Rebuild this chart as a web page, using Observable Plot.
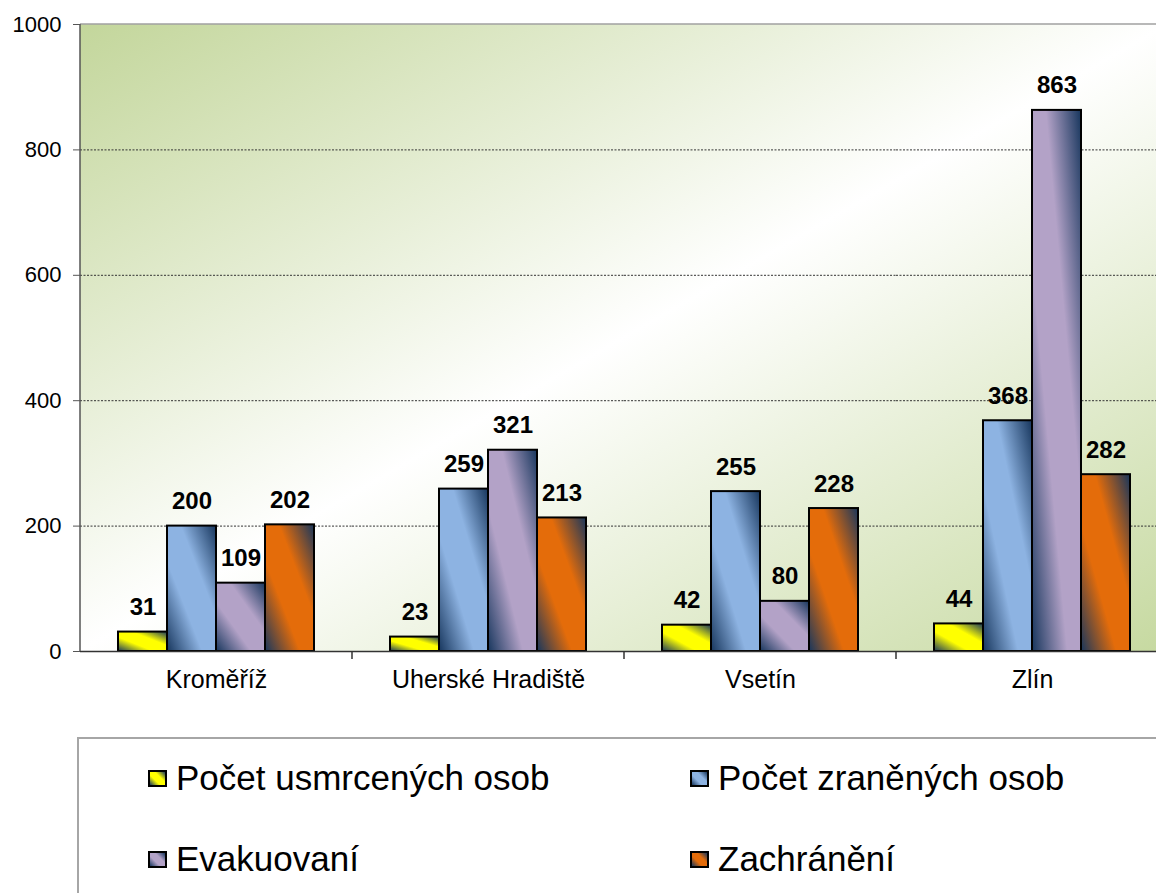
<!DOCTYPE html>
<html><head><meta charset="utf-8">
<script src="https://cdn.jsdelivr.net/npm/d3@7"></script>
<script src="https://cdn.jsdelivr.net/npm/@observablehq/plot@0.6"></script>
<style>
html,body{margin:0;padding:0;background:#fff;overflow:hidden;width:1156px;height:893px;}
#chart svg{display:block;}
#legend{position:relative;margin-left:77px;margin-top:37px;width:1120px;height:200px;border:2px solid #a6a6a6;box-sizing:border-box;font-family:Arial,"Liberation Sans",sans-serif;font-size:35px;color:#000;}
.item{position:absolute;display:flex;align-items:center;height:40px;line-height:40px;white-space:nowrap;}
.sw{width:15px;height:13px;border:2px solid #000;margin-right:9px;}
</style></head><body>
<svg width="0" height="0" style="position:absolute"><defs id="defs"></defs></svg>
<div id="chart"></div>
<div id="legend"></div>
<script>
const categories = ["Kroměříž", "Uherské Hradiště", "Vsetín", "Zlín"];
const series = ["Počet usmrcených osob", "Počet zraněných osob", "Evakuovaní", "Zachránění"];
const usmrceni = [31, 23, 42, 44];
const zraneni = [200, 259, 255, 368];
const evakuovani = [109, 321, 80, 863];
const zachraneni = [202, 213, 228, 282];
const yTicks = [0, 200, 400, 600, 800, 1000];
const colors = ["#ffff00", "#8db3e2", "#b3a2c7", "#e46c0a"];
const dark = "#17365d";
const font = "Arial, 'Liberation Sans', sans-serif";

const seriesValues = [usmrceni, zraneni, evakuovani, zachraneni];
const data = [];
categories.forEach((c, i) => series.forEach((s, j) => data.push({category: c, series: s, value: seriesValues[j][i]})));

// gradients
const defs = d3.select("#defs");
colors.forEach((col, i) => {
  const g = defs.append("linearGradient").attr("id", "bar" + i)
    .attr("x1", 0).attr("y1", 1).attr("x2", 1).attr("y2", 0);
  [[0, dark], [0.36, col], [0.64, col], [1, dark]].forEach(([o, c]) =>
    g.append("stop").attr("offset", o).attr("stop-color", c));
});
const bg = defs.append("linearGradient").attr("id", "bg").attr("x1", 0).attr("y1", 0).attr("x2", 1).attr("y2", 1);
[[0, "#c3d69b"], [0.5, "#ffffff"], [1, "#c6d9a0"]].forEach(([o, c]) =>
  bg.append("stop").attr("offset", o).attr("stop-color", c));

const chart = Plot.plot({
  width: 1168,
  height: 700,
  marginLeft: 80,
  marginRight: 0,
  marginTop: 24,
  marginBottom: 49,
  style: {fontFamily: font, background: "transparent", maxWidth: "none", color: "#000"},
  fx: {domain: categories, paddingInner: 0, paddingOuter: 0, axis: null, label: null},
  x: {domain: series, paddingInner: 0, paddingOuter: 0.75, axis: null, label: null},
  y: {domain: [0, 1000], label: null},
  color: {domain: series, range: colors.map((c, i) => `url(#bar${i})`)},
  marks: [
    Plot.gridY(yTicks.filter(d => d > 0 && d < 1000), {stroke: "#333", strokeOpacity: 1, strokeWidth: 1, strokeDasharray: "2,1.5"}),
    Plot.axisY(yTicks, {tickSize: 7, tickPadding: 12, fontSize: 22, label: null, stroke: "#555", tickFormat: d => String(d)}),
    Plot.barY(data, {fx: "category", x: "series", y: "value", fill: "series", stroke: "#000", strokeWidth: 2, inset: 0}),
    Plot.ruleY([0], {stroke: "#333", strokeWidth: 1.5}),
    Plot.text(data, {fx: "category", x: "series", y: "value", text: "value", fontWeight: "bold", fontSize: 24, lineAnchor: "bottom", dy: -17, fill: "#000"}),
    Plot.axisFx({anchor: "bottom", tickSize: 0, tickPadding: 19, fontSize: 25, label: null, fill: "#000"})
  ]
});

// background, frame lines and between-category ticks drawn from the chart's scales
const svg = d3.select(chart);
const fx = chart.scale("fx"), y = chart.scale("y");
const x0 = fx.range[0], x1 = fx.range[1];
const yTop = y.apply(1000), yBot = y.apply(0);
svg.insert("rect", ":first-child").attr("x", x0).attr("y", yTop).attr("width", x1 - x0).attr("height", yBot - yTop).attr("fill", "url(#bg)");
svg.append("line").attr("x1", x0).attr("x2", x1).attr("y1", yTop).attr("y2", yTop).attr("stroke", "#a0a0a0").attr("stroke-width", 1.5);
svg.append("line").attr("x1", x0).attr("x2", x0).attr("y1", yTop).attr("y2", yBot).attr("stroke", "#555").attr("stroke-width", 1.5);
categories.forEach(c => {
  const bx = fx.apply(c);
  if (bx > x0 + 1) svg.append("line").attr("x1", bx).attr("x2", bx).attr("y1", yBot).attr("y2", yBot + 8).attr("stroke", "#333").attr("stroke-width", 1.5);
});

document.getElementById("chart").appendChild(chart);

// legend
const legend = d3.select("#legend");
const pos = [[69, 19], [611, 19], [69, 100], [611, 100]];
series.forEach((s, i) => {
  const it = legend.append("div").attr("class", "item").style("left", pos[i][0] + "px").style("top", pos[i][1] + "px");
  it.append("div").attr("class", "sw").style("background", `linear-gradient(45deg, ${dark} 0%, ${colors[i]} 36%, ${colors[i]} 64%, ${dark} 100%)`);
  it.append("span").text(s);
});
</script>
</body></html>
